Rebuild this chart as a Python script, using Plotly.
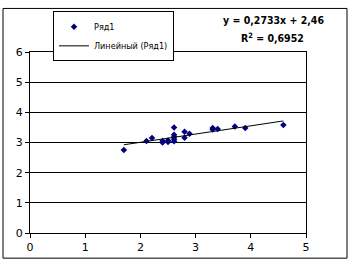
import plotly.graph_objects as go
import numpy as np

x_vals = [1.70, 2.11, 2.21, 2.40, 2.40, 2.50, 2.50, 2.61, 2.61, 2.61, 2.61, 2.61,
          2.80, 2.80, 2.89, 3.31, 3.31, 3.40, 3.71, 3.90, 4.59]
y_vals = [2.75, 3.05, 3.15, 3.05, 3.00, 3.07, 3.02, 3.50, 3.26, 3.18, 3.11, 3.04,
          3.36, 3.16, 3.29, 3.48, 3.43, 3.45, 3.53, 3.48, 3.58]
slope = 0.2733
intercept = 2.46
r2_text = "0,6952"
series_name = "Ряд1"
trend_name = "Линейный (Ряд1)"

tx = np.array([min(x_vals), max(x_vals)])
ty = slope * tx + intercept

W, H = 350, 266
L, R, T, B = 30, 44, 48, 31
pw, ph = W - L - R, H - T - B

def px_x(p):
    return (p - L) / pw

def px_y(p):
    return (H - B - p) / ph

NARROW = "DejaVu Sans Condensed, Liberation Sans Narrow, Liberation Sans"

fig = go.Figure()
fig.add_trace(go.Scatter(x=x_vals, y=y_vals, mode="markers", name=series_name,
                         marker=dict(symbol="diamond", size=5, color="#000080")))
fig.add_trace(go.Scatter(x=tx, y=ty, mode="lines", name=trend_name,
                         line=dict(color="black", width=1)))

eq_text = f"<b>y = {str(slope).replace('.', ',')}x + {str(intercept).replace('.', ',')}</b>"

fig.update_layout(
    width=W, height=H,
    margin=dict(l=L, r=R, t=T, b=B),
    paper_bgcolor="white", plot_bgcolor="white",
    font=dict(family="DejaVu Sans", size=11, color="black"),
    showlegend=True,
    legend=dict(x=px_x(53), y=px_y(6), xanchor="left", yanchor="top",
                bordercolor="black", borderwidth=1, bgcolor="white",
                font=dict(family=NARROW, size=9),
                tracegroupgap=0, itemwidth=30),
    xaxis=dict(range=[0, 5], dtick=1, showgrid=False, showline=True, linecolor="black",
               linewidth=1, ticks="outside", ticklen=4, tickcolor="black",
               zeroline=False, mirror=True, tickfont=dict(size=11)),
    yaxis=dict(range=[0, 6], dtick=1, showgrid=True, gridcolor="black", gridwidth=1,
               showline=True, linecolor="black", linewidth=1, ticks="outside",
               ticklen=4, tickcolor="black", zeroline=False, mirror=True,
               tickfont=dict(size=11)),
    shapes=[dict(type="rect", xref="paper", yref="paper",
                 x0=px_x(3), x1=px_x(347), y0=px_y(261), y1=px_y(3),
                 line=dict(color="black", width=1))],
    annotations=[
        dict(xref="paper", yref="paper", x=px_x(273), y=px_y(15),
             text=eq_text,
             showarrow=False, xanchor="center", yanchor="middle",
             font=dict(family=NARROW, size=10.5, color="black")),
        dict(xref="paper", yref="paper", x=px_x(272), y=px_y(33),
             text=f"<b>R<sup>2</sup> = {r2_text}</b>",
             showarrow=False, xanchor="center", yanchor="middle",
             font=dict(family=NARROW, size=10.5, color="black")),
    ],
)

fig.write_html("out.html")
